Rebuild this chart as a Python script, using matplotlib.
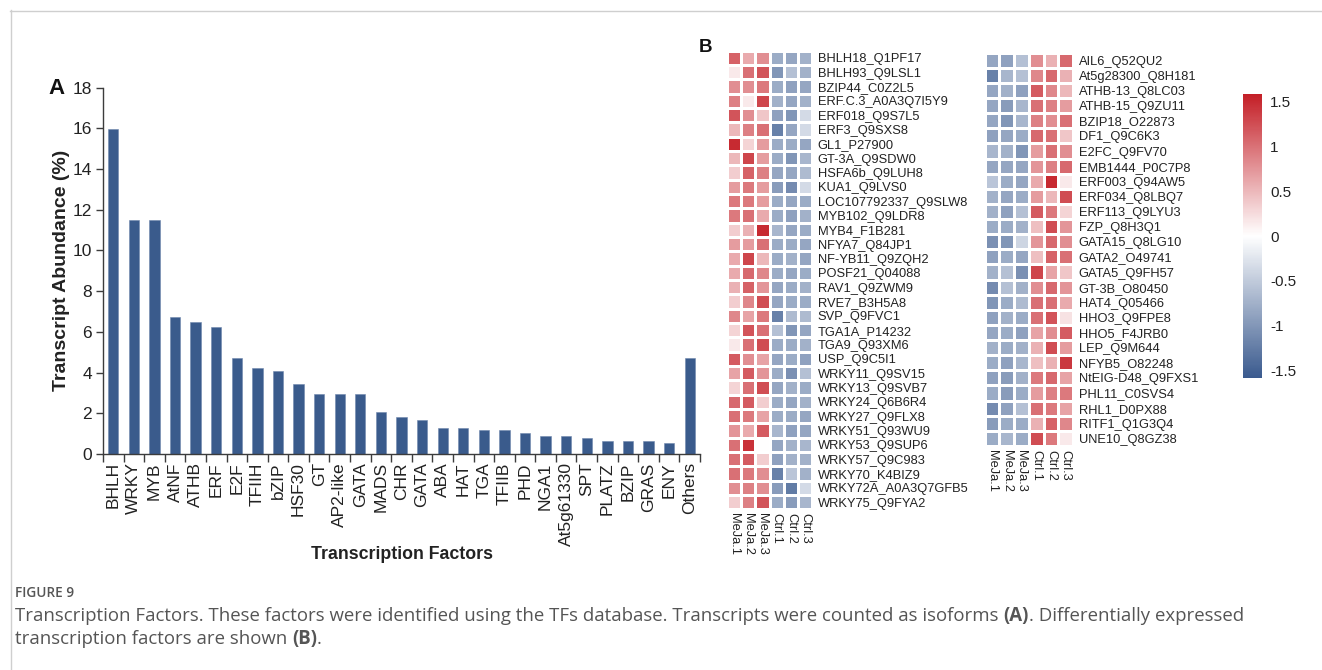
import numpy as np
import matplotlib
matplotlib.use("Agg")
import matplotlib.pyplot as plt
from matplotlib.colors import LinearSegmentedColormap, Normalize
from matplotlib.cm import ScalarMappable
from matplotlib.lines import Line2D

# ---------------- data ----------------
tf_families = ["BHLH", "WRKY", "MYB", "AtNF", "ATHB", "ERF", "E2F", "TFIIH", "bZIP",
               "HSF30", "GT", "AP2-like", "GATA", "MADS", "CHR", "GATA", "ABA", "HAT",
               "TGA", "TFIIB", "PHD", "NGA1", "At5g61330", "SPT", "PLATZ", "BZIP",
               "GRAS", "ENY", "Others"]
abundance = [15.95, 11.5, 11.5, 6.75, 6.5, 6.25, 4.7, 4.2, 4.07,
             3.42, 2.93, 2.93, 2.93, 2.05, 1.8, 1.68, 1.3, 1.3,
             1.17, 1.17, 1.04, 0.9, 0.9, 0.78, 0.65, 0.65,
             0.65, 0.52, 4.7]

samples = ["MeJa.1", "MeJa.2", "MeJa.3", "Ctrl.1", "Ctrl.2", "Ctrl.3"]

up_genes = ["BHLH18_Q1PF17", "BHLH93_Q9LSL1", "BZIP44_C0Z2L5", "ERF.C.3_A0A3Q7I5Y9",
            "ERF018_Q9S7L5", "ERF3_Q9SXS8", "GL1_P27900", "GT-3A_Q9SDW0",
            "HSFA6b_Q9LUH8", "KUA1_Q9LVS0", "LOC107792337_Q9SLW8", "MYB102_Q9LDR8",
            "MYB4_F1B281", "NFYA7_Q84JP1", "NF-YB11_Q9ZQH2", "POSF21_Q04088",
            "RAV1_Q9ZWM9", "RVE7_B3H5A8", "SVP_Q9FVC1", "TGA1A_P14232",
            "TGA9_Q93XM6", "USP_Q9C5I1", "WRKY11_Q9SV15", "WRKY13_Q9SVB7",
            "WRKY24_Q6B6R4", "WRKY27_Q9FLX8", "WRKY51_Q93WU9", "WRKY53_Q9SUP6",
            "WRKY57_Q9C983", "WRKY70_K4BIZ9", "WRKY72A_A0A3Q7GFB5", "WRKY75_Q9FYA2"]
up_z = [
    [1.10, 0.60, 0.80, -0.80, -0.85, -0.75],
    [0.15, 1.00, 1.20, -1.00, -0.60, -0.75],
    [0.80, 0.80, 0.95, -0.80, -0.90, -0.85],
    [0.90, 0.15, 1.30, -0.75, -0.85, -0.75],
    [1.20, 0.80, 0.40, -0.90, -1.00, -0.35],
    [0.50, 0.90, 1.00, -1.20, -0.85, -0.35],
    [1.50, 0.30, 0.70, -0.80, -0.80, -0.85],
    [0.50, 1.30, 0.70, -0.80, -1.00, -0.70],
    [0.35, 1.10, 0.90, -0.85, -0.85, -0.65],
    [0.70, 0.95, 0.70, -0.95, -1.10, -0.35],
    [0.95, 0.95, 0.70, -0.80, -0.85, -0.80],
    [0.95, 1.00, 0.60, -0.80, -0.90, -0.75],
    [0.35, 0.55, 1.50, -0.70, -0.85, -0.80],
    [0.70, 0.70, 1.00, -0.80, -0.80, -0.85],
    [0.60, 1.30, 0.50, -0.80, -0.75, -0.85],
    [0.60, 1.05, 0.85, -0.80, -0.85, -0.80],
    [0.55, 1.10, 0.75, -0.85, -0.80, -0.75],
    [0.35, 0.85, 1.25, -0.85, -0.80, -0.80],
    [0.85, 0.65, 0.95, -1.20, -0.65, -0.65],
    [0.30, 1.20, 1.00, -0.60, -1.00, -0.85],
    [0.15, 1.00, 1.25, -0.80, -0.80, -0.75],
    [1.15, 0.80, 0.65, -0.85, -0.80, -0.90],
    [0.65, 1.15, 0.75, -0.80, -1.05, -0.60],
    [0.30, 1.00, 1.25, -0.85, -0.75, -0.80],
    [1.05, 1.15, 0.35, -0.80, -0.85, -0.75],
    [1.00, 0.95, 0.65, -0.80, -0.80, -0.85],
    [0.75, 0.60, 1.15, -0.70, -0.90, -0.85],
    [1.00, 1.45, 0.00, -0.85, -0.75, -0.70],
    [1.00, 1.15, 0.35, -0.90, -0.75, -0.75],
    [1.00, 0.95, 0.80, -1.20, -0.55, -0.75],
    [0.80, 0.90, 0.80, -0.95, -1.25, -0.35],
    [0.35, 0.90, 1.20, -0.80, -0.95, -0.70],
]

down_genes = ["AIL6_Q52QU2", "At5g28300_Q8H181", "ATHB-13_Q8LC03", "ATHB-15_Q9ZU11",
              "BZIP18_O22873", "DF1_Q9C6K3", "E2FC_Q9FV70", "EMB1444_P0C7P8",
              "ERF003_Q94AW5", "ERF034_Q8LBQ7", "ERF113_Q9LYU3", "FZP_Q8H3Q1",
              "GATA15_Q8LG10", "GATA2_O49741", "GATA5_Q9FH57", "GT-3B_O80450",
              "HAT4_Q05466", "HHO3_Q9FPE8", "HHO5_F4JRB0", "LEP_Q9M644",
              "NFYB5_O82248", "NtEIG-D48_Q9FXS1", "PHL11_C0SVS4", "RHL1_D0PX88",
              "RITF1_Q1G3Q4", "UNE10_Q8GZ38"]
down_z = [
    [-0.85, -0.90, -0.60, 0.80, 0.55, 1.05],
    [-1.20, -0.70, -0.60, 0.85, 1.05, 0.55],
    [-0.85, -0.75, -0.90, 1.15, 0.85, 0.50],
    [-0.85, -0.95, -0.70, 1.00, 0.90, 0.70],
    [-0.85, -1.00, -0.70, 0.90, 0.80, 1.00],
    [-0.90, -0.85, -0.80, 1.05, 1.00, 0.40],
    [-0.70, -0.75, -1.00, 0.70, 1.00, 0.80],
    [-0.85, -0.85, -0.85, 0.75, 0.90, 1.05],
    [-0.55, -0.80, -0.85, 0.60, 1.50, 0.15],
    [-0.75, -0.85, -0.80, 0.70, 0.50, 1.25],
    [-0.75, -0.90, -0.60, 1.15, 0.95, 0.30],
    [-0.80, -0.80, -0.75, 0.45, 1.25, 0.75],
    [-1.05, -1.00, -0.40, 0.75, 1.05, 0.80],
    [-0.90, -0.80, -0.85, 0.45, 1.10, 1.00],
    [-0.75, -0.60, -1.05, 1.30, 0.65, 0.40],
    [-1.10, -0.60, -0.75, 0.80, 1.05, 0.75],
    [-1.00, -0.80, -0.65, 1.00, 1.00, 0.60],
    [-0.90, -0.75, -0.80, 1.00, 1.20, 0.20],
    [-0.85, -0.80, -0.90, 0.65, 0.80, 1.15],
    [-0.75, -0.80, -0.75, 0.55, 1.25, 0.70],
    [-0.80, -0.90, -0.70, 0.45, 0.55, 1.40],
    [-0.90, -0.95, -0.75, 0.95, 1.05, 0.65],
    [-0.80, -0.95, -0.80, 0.70, 0.90, 0.95],
    [-1.10, -0.90, -0.60, 1.00, 0.95, 0.65],
    [-0.95, -0.80, -0.80, 0.55, 1.10, 0.85],
    [-0.80, -0.70, -0.80, 1.25, 0.95, 0.15],
]

colorbar_ticks = [-1.5, -1, -0.5, 0, 0.5, 1, 1.5]
colorbar_labels = ["-1.5", "-1", "-0.5", "0", "0.5", "1", "1.5"]

# ---------------- figure ----------------
W, H = 1322, 670
plt.rcParams["font.family"] = ["Liberation Sans", "DejaVu Sans"]
fig = plt.figure(figsize=(W / 100, H / 100), dpi=100)
fig.patch.set_facecolor("white")


def box(l, t, r, b):
    return [l / W, 1 - b / H, (r - l) / W, (b - t) / H]


def fx(x):
    return x / W


def fy(y):
    return 1 - y / H


# page frame
frame_col = "#cfcfcf"
fig.add_artist(Line2D([fx(10), 1.0], [fy(10.5), fy(10.5)], color=frame_col, lw=1,
                      transform=fig.transFigure))
fig.add_artist(Line2D([fx(10.5), fx(10.5)], [fy(10), 0.0], color=frame_col, lw=1,
                      transform=fig.transFigure))

# ---------------- panel A: bar chart ----------------
bar_color = "#3a5b8c"
axis_col = "#3c3c3c"
ax = fig.add_axes(box(103, 87.5, 700, 454))
x = np.arange(len(tf_families))
ax.bar(x, abundance, width=0.5, color=bar_color, edgecolor="#6f87ad", linewidth=0.4)
ax.set_xlim(-0.5, len(tf_families) - 0.5)
ax.set_ylim(0, 18)
ax.set_yticks(np.arange(0, 19, 2))
ax.tick_params(axis="y", labelsize=12.5, length=5, width=1, color=axis_col,
               labelcolor="#222222", pad=3)
ax.set_xticks(x)
ax.set_xticklabels(tf_families, rotation=90, fontsize=12.5, color="#222222")
ax.tick_params(axis="x", length=0, pad=6)
ax.set_xticks(np.arange(-0.5, len(tf_families)), minor=True)
ax.tick_params(axis="x", which="minor", length=6, width=1, color=axis_col)
for s in ["top", "right"]:
    ax.spines[s].set_visible(False)
for s in ["left", "bottom"]:
    ax.spines[s].set_color(axis_col)
    ax.spines[s].set_linewidth(1)
ax.set_ylabel("Transcript Abundance (%)", fontsize=14, fontweight="bold",
              color="#222222", labelpad=2)
ax.set_xlabel("Transcription Factors", fontsize=12.8, fontweight="bold",
              color="#222222", labelpad=0)
fig.text(fx(48), fy(88), "A", fontsize=16, fontweight="bold", va="center",
         ha="left", color="#111111")

# ---------------- panel B: heatmaps ----------------
cmap = LinearSegmentedColormap.from_list("zscore", ["#3a5a8e", "#ffffff", "#c41f27"])
norm = Normalize(vmin=-1.58, vmax=1.58)
hm_font = 9.25


def heatmap(rect, values, genes):
    hax = fig.add_axes(rect)
    data = np.asarray(values)
    hax.pcolormesh(data, cmap=cmap, norm=norm, edgecolors="white", linewidth=1.0)
    hax.set_xlim(0, data.shape[1])
    hax.set_ylim(data.shape[0], 0)
    for s in hax.spines.values():
        s.set_visible(False)
    hax.yaxis.tick_right()
    hax.set_yticks(np.arange(len(genes)) + 0.5)
    hax.set_yticklabels(genes, fontsize=hm_font, color="#222222")
    hax.set_xticks(np.arange(len(samples)) + 0.5)
    hax.set_xticklabels(samples, rotation=270, fontsize=hm_font, color="#222222",
                        ha="center", va="top")
    hax.tick_params(length=0, pad=4)
    hax.tick_params(axis="x", pad=3)
    return hax


heatmap(box(726.7, 50.7, 812.3, 509.3), up_z, up_genes)
heatmap(box(984.7, 52.7, 1073, 446), down_z, down_genes)
fig.text(fx(699), fy(48), "B", fontsize=13.5, fontweight="bold", va="center",
         ha="left", color="#111111")

cax = fig.add_axes(box(1243, 94, 1262, 378))
cb = fig.colorbar(ScalarMappable(norm=norm, cmap=cmap), cax=cax)
cb.outline.set_visible(False)
cb.set_ticks(colorbar_ticks)
cb.set_ticklabels(colorbar_labels)
cax.tick_params(length=0, labelsize=11, pad=6, labelcolor="#222222")

# ---------------- caption ----------------
cap_col = "#555555"
cap_font = ["Open Sans", "DejaVu Sans"]
cap_size = 13.4
renderer = fig.canvas.get_renderer()


def rich_line(x0, y0, pieces, size):
    xpos = x0
    for txt, weight in pieces:
        t = fig.text(fx(xpos), fy(y0), txt, fontsize=size, fontweight=weight,
                     family=cap_font, color=cap_col, va="center", ha="left")
        xpos += t.get_window_extent(renderer=renderer).width


fig.text(fx(15), fy(593), "FIGURE 9", fontsize=9.8, family=cap_font,
         color="#555555", va="center", ha="left", fontweight="semibold")
rich_line(15, 616, [("Transcription Factors. These factors were identified using the "
                     "TFs database. Transcripts were counted as isoforms ", "normal"),
                    ("(A)", "bold"),
                    (". Differentially expressed", "normal")], cap_size)
rich_line(15, 639, [("transcription factors are shown ", "normal"),
                    ("(B)", "bold"),
                    (".", "normal")], cap_size)

fig.savefig("out.png", dpi=100, facecolor="white")
